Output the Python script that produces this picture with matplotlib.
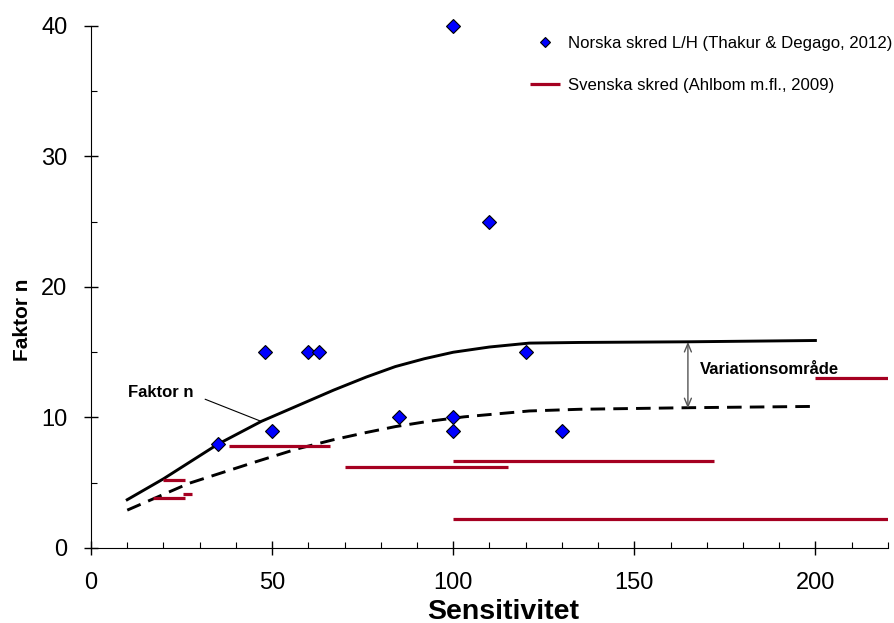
import matplotlib.pyplot as plt
from matplotlib.ticker import MultipleLocator

plt.rcParams['font.family'] = ['Liberation Sans', 'DejaVu Sans']

# Norwegian slides (diamonds)
norsk_sens = [35, 48, 50, 60, 63, 85, 100, 100, 100, 110, 120, 130]
norsk_n = [8, 15, 9, 15, 15, 10, 40, 10, 9, 25, 15, 9]

# Swedish slides (horizontal ranges)
svensk_xmin = [20, 17, 25.5, 38, 70, 100, 100, 200]
svensk_xmax = [26, 26, 28, 66, 115, 172, 220, 220]
svensk_n = [5.2, 3.8, 4.1, 7.8, 6.2, 6.7, 2.2, 13]

# Faktor n curves (upper solid, lower dashed)
upper_x = [10, 20, 35, 47, 57, 67, 76, 84, 92, 100, 110, 121, 135, 165, 200]
upper_y = [3.7, 5.3, 7.95, 9.7, 10.9, 12.1, 13.1, 13.9, 14.5, 15.0, 15.4, 15.7, 15.75, 15.8, 15.9]
lower_x = [10, 27, 46, 57, 67, 76, 84, 93, 103, 121, 135, 165, 200]
lower_y = [2.9, 4.95, 6.65, 7.6, 8.3, 8.85, 9.3, 9.7, 10.05, 10.5, 10.63, 10.75, 10.85]

fig = plt.figure(figsize=(8.95, 6.23), dpi=100)
ax = fig.add_axes([0.1017, 0.1204, 0.8903, 0.8379])

ax.plot(upper_x, upper_y, color='black', lw=2.1, zorder=2)
ax.plot(lower_x, lower_y, color='black', lw=2.1, dashes=(5, 2.8), zorder=2)

ax.hlines(svensk_n, svensk_xmin, svensk_xmax, color='#A50021', lw=2.3, zorder=3,
          label='Svenska skred (Ahlbom m.fl., 2009)')
ax.plot(norsk_sens, norsk_n, ls='none', marker='D', ms=7.2, mfc='#0000FF',
        mec='black', mew=0.8, zorder=4, clip_on=False,
        label='Norska skred L/H (Thakur & Degago, 2012)')

ax.set_xlim(0, 220)
ax.set_ylim(0, 40)
ax.xaxis.set_major_locator(MultipleLocator(50))
ax.xaxis.set_minor_locator(MultipleLocator(10))
ax.yaxis.set_major_locator(MultipleLocator(10))
ax.yaxis.set_minor_locator(MultipleLocator(5))
ax.tick_params(which='major', direction='inout', length=10, width=1, labelsize=17)
ax.tick_params(which='minor', direction='in', length=4, width=0.8)
ax.tick_params(axis='y', which='major', pad=12)
ax.tick_params(axis='x', which='major', pad=12)
for s in ['top', 'right']:
    ax.spines[s].set_visible(False)

ax.set_xlabel('Sensitivitet', fontsize=20.5, fontweight='bold')
ax.set_ylabel('Faktor n', fontsize=15, fontweight='bold')
ax.xaxis.set_label_coords(0.517, -0.097)
ax.yaxis.set_label_coords(-0.0745, 0.437)

# annotations
ax.text(10.2, 11.95, 'Faktor n', fontsize=12, fontweight='bold', ha='left', va='center')
ax.annotate('', xy=(47, 9.7), xytext=(31.5, 11.4),
            arrowprops=dict(arrowstyle='-', color='black', lw=0.8, shrinkA=0, shrinkB=0))
ax.annotate('', xy=(164.8, 15.8), xytext=(164.8, 10.7),
            arrowprops=dict(arrowstyle='<->,head_length=0.6,head_width=0.25',
                            color='#555555', lw=1, shrinkA=0, shrinkB=0))
ax.text(168, 13.7, 'Variationsområde', fontsize=12, fontweight='bold', ha='left', va='center')

h, l = ax.get_legend_handles_labels()
ax.legend(h[::-1], l[::-1], loc='upper left', bbox_to_anchor=(0.592, 0.942),
          bbox_transform=fig.transFigure, frameon=False, fontsize=12.1,
          borderpad=0, borderaxespad=0, labelspacing=1.6, handlelength=1.8,
          handletextpad=0.45, markerscale=0.65)

fig.savefig('out.png', dpi=100)
